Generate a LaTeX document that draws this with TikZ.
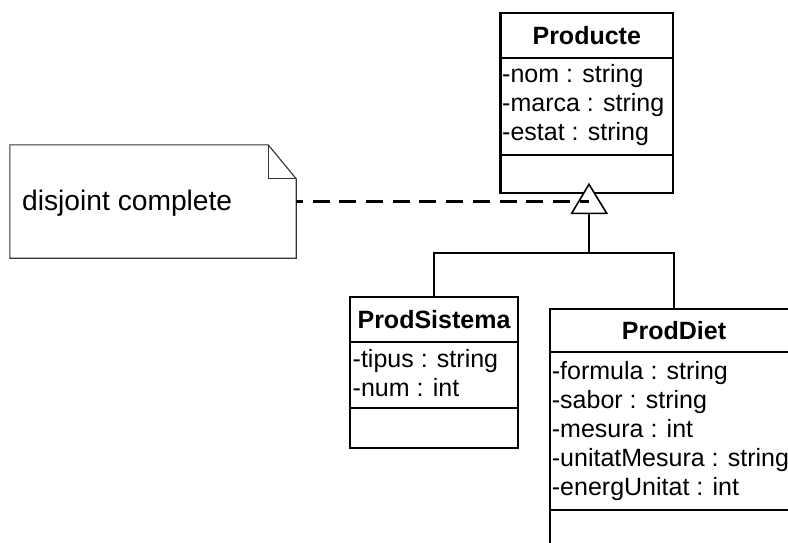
\documentclass[tikz,border=0pt]{standalone}
\usepackage{fontspec}
\setmainfont{Liberation Sans}
\begin{document}
\begin{tikzpicture}[x=1pt,y=-1pt,
  box/.style={draw,line width=2.2pt,inner sep=0pt,fill=white},
  divider/.style={line width=2.2pt},
  title/.style={font=\fontsize{25}{29}\selectfont\bfseries,anchor=base,inner sep=0pt},
  attr/.style={font=\fontsize{25}{29}\selectfont,anchor=base west,inner sep=0pt},
  notetext/.style={font=\fontsize{28.2}{30}\selectfont,anchor=base west,inner sep=0pt},
  conn/.style={line width=1.4pt},
  genline/.style={line width=1.6pt,fill=white,line join=miter},
  noteline/.style={line width=1.1pt,draw=black!80},
  dashline/.style={line width=2.2pt,dash pattern=on 17pt off 9.7pt,dash phase=10.3pt}
]
\useasboundingbox (0,0) rectangle (788,543);
\clip (0,0) rectangle (788,543);

% Producte
\node[box,minimum width=172.5pt,minimum height=180pt] (producte) at (586.75,103.3) {};
\draw[divider] (producte.west |- 0,58) -- (producte.east |- 0,58);
\draw[divider] (producte.west |- 0,155) -- (producte.east |- 0,155);
\node[title] (producteT) at (586.75,44.5) {Producte};
\node[attr] (pa1) at (502,82.5) {-nom : string};
\node[attr] (pa2) at (502,111.5) {-marca : string};
\node[attr] (pa3) at (502,140.5) {-estat : string};

% ProdSistema
\node[box,minimum width=168pt,minimum height=151pt] (prodsistema) at (434,372.5) {};
\draw[divider] (prodsistema.west |- 0,342) -- (prodsistema.east |- 0,342);
\draw[divider] (prodsistema.west |- 0,408) -- (prodsistema.east |- 0,408);
\node[title] (prodsistemaT) at (434,328.5) {ProdSistema};
\node[attr] (sa1) at (352.5,367.5) {-tipus : string};
\node[attr] (sa2) at (352.5,396.5) {-num : int};

% ProdDiet
\node[box,minimum width=248pt,minimum height=271pt] (proddiet) at (674,444.5) {};
\draw[divider] (proddiet.west |- 0,352) -- (proddiet.east |- 0,352);
\draw[divider] (proddiet.west |- 0,510) -- (proddiet.east |- 0,510);
\node[title] (proddietT) at (674,339.5) {ProdDiet};
\node[attr] (da1) at (551.7,379) {-formula : string};
\node[attr] (da2) at (551.7,408) {-sabor : string};
\node[attr] (da3) at (551.7,437) {-mesura : int};
\node[attr] (da4) at (551.7,466) {-unitatMesura : string};
\node[attr] (da5) at (551.7,495) {-energUnitat : int};

% Note
\node[minimum width=286pt,minimum height=113pt,inner sep=0pt] (note) at (153,201.5) {};
\draw[noteline] (note.north west) -- ([xshift=-28pt]note.north east) -- ([yshift=-34pt]note.north east)
  -- (note.south east) -- (note.south west) -- cycle;
\draw[noteline] ([xshift=-28pt]note.north east) -- ([xshift=-28pt,yshift=-34pt]note.north east) -- ([yshift=-34pt]note.north east);
\node[notetext] (notelabel) at (22,210) {disjoint complete};

% Generalisation
\coordinate (apex) at (589,184.3);
\coordinate (gen) at (589,213.3);
\coordinate (tricenter) at (589,201.5);
\draw[genline] (apex) -- (606.7,213.3) -- (571.7,213.3) -- cycle;
\draw[dashline] (note.east |- tricenter) -- (tricenter);
\coordinate (junction) at (589,253);
\draw[conn] (gen) -- (junction);
\draw[conn] (prodsistema.north) |- (junction) -| (proddiet.north);
\end{tikzpicture}
\end{document}
